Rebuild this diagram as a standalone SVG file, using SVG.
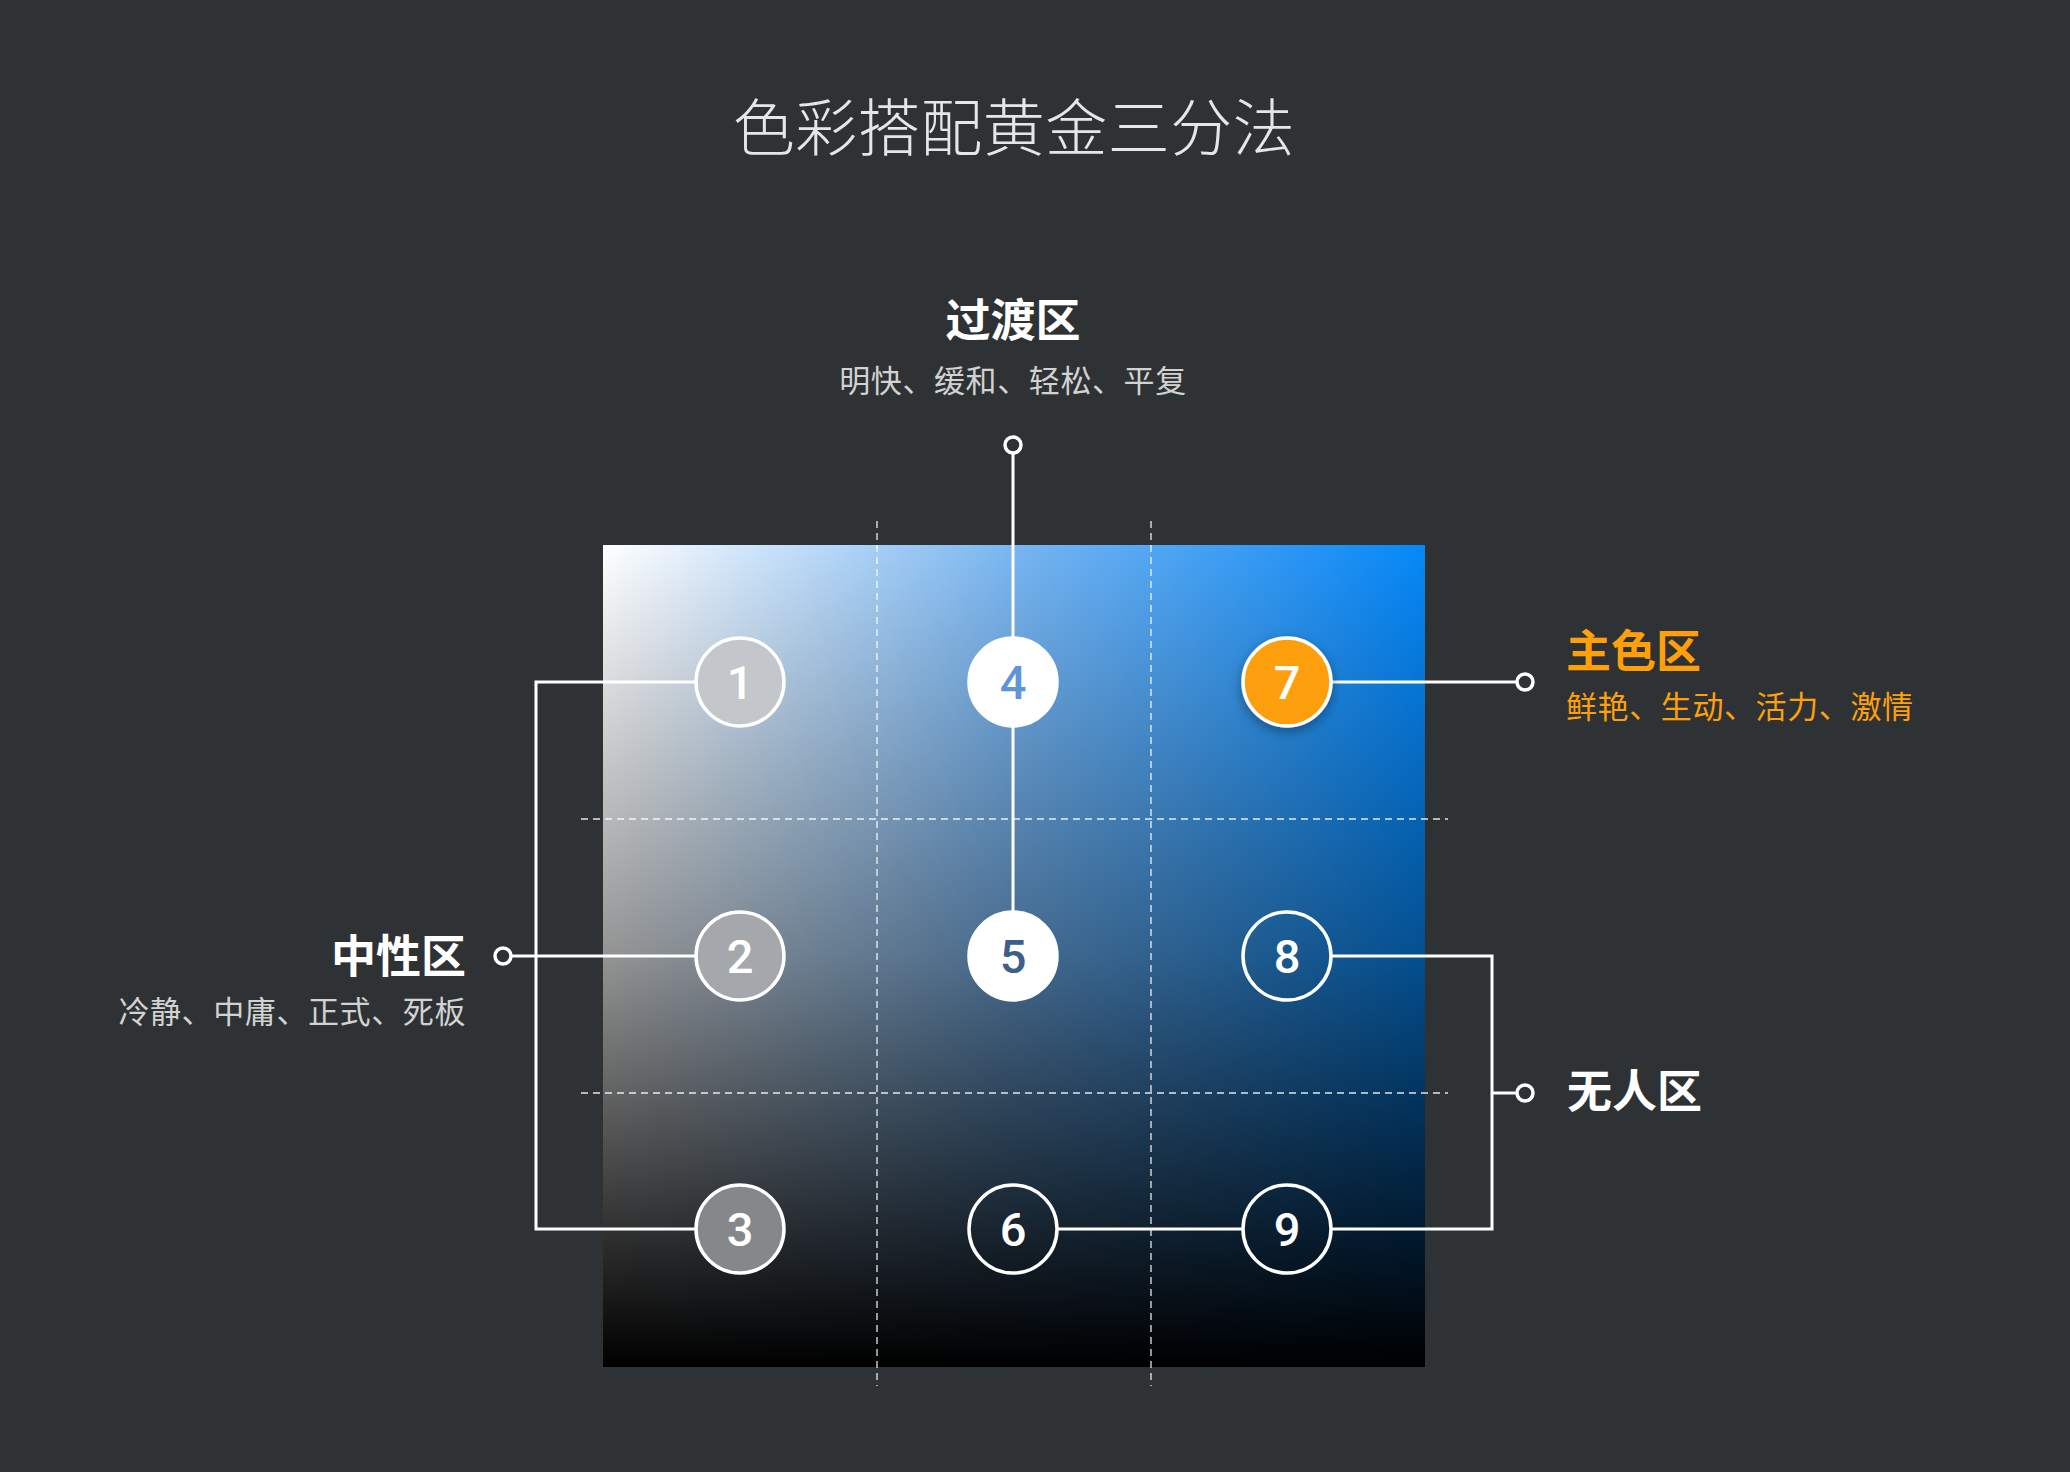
<svg xmlns="http://www.w3.org/2000/svg" width="2070" height="1472" viewBox="0 0 2070 1472">
<defs>
<linearGradient id="gx" x1="0" y1="0" x2="1" y2="0">
<stop offset="0" stop-color="#ffffff"/>
<stop offset="0.5" stop-color="#78b6f2"/>
<stop offset="1" stop-color="#0588f8"/>
</linearGradient>
<linearGradient id="gy" x1="0" y1="0" x2="0" y2="1">
<stop offset="0" stop-color="#000" stop-opacity="0"/>
<stop offset="0.5" stop-color="#000" stop-opacity="0.42"/>
<stop offset="1" stop-color="#000" stop-opacity="1"/>
</linearGradient>
<filter id="sh" x="-50%" y="-50%" width="200%" height="200%">
<feDropShadow dx="0" dy="4" stdDeviation="6" flood-color="#000" flood-opacity="0.35"/>
</filter>
<style>
.title{font-family:"Noto Sans CJK SC","Noto Sans",sans-serif;font-size:62px;font-weight:300;fill:#e6e6e6;text-anchor:middle;letter-spacing:0.5px}
.head{font-family:"Noto Sans CJK SC","Noto Sans",sans-serif;font-size:45px;font-weight:700;fill:#ffffff}
.sub{font-family:"Noto Sans CJK SC","Noto Sans",sans-serif;font-size:31px;font-weight:400;fill:#d2d2d2;letter-spacing:0.6px}
.orange{fill:#ffa00a}
.num{font-family:Roboto,"DejaVu Sans",sans-serif;font-size:47px;font-weight:500;fill:#ffffff;text-anchor:middle}
.ring{stroke:#ffffff;stroke-width:3.5}
.conn{stroke:#ffffff;stroke-width:3;fill:none}
.end{stroke:#ffffff;stroke-width:3.5;fill:#2f3234}
.grid{stroke:#ffffff;stroke-opacity:0.65;stroke-width:1.8;stroke-dasharray:7 5;fill:none}
</style>
</defs>
<rect x="0" y="0" width="2070" height="1472" fill="#2f3234"/>
<text class="title" x="1014" y="151">色彩搭配黄金三分法</text>

<g id="panel">
<rect x="603" y="545" width="822" height="822" fill="url(#gx)"/>
<rect x="603" y="545" width="822" height="822" fill="url(#gy)"/>
<path class="grid" d="M877 521V1386M1151 521V1386M581 819H1448M581 1093H1448"/>
</g>

<g id="connectors">
<path class="conn" d="M695 682H536V1229H695"/>
<path class="conn" d="M695 956H511"/>
<path class="conn" d="M1013 453V637M1013 727V911"/>
<path class="conn" d="M1332 682H1517"/>
<path class="conn" d="M1332 956H1492V1229H1332"/>
<path class="conn" d="M1058 1229H1242"/>
<path class="conn" d="M1492 1093H1517"/>
<circle class="end" cx="503" cy="956" r="8"/>
<circle class="end" cx="1013" cy="445" r="8"/>
<circle class="end" cx="1525" cy="682" r="8"/>
<circle class="end" cx="1525" cy="1093" r="8"/>
</g>

<g id="node1"><circle class="ring" cx="740" cy="682" r="44" fill="#c3c6ca"/><text class="num" x="740" y="699">1</text></g>
<g id="node2"><circle class="ring" cx="740" cy="956" r="44" fill="#a4a7ab"/><text class="num" x="740" y="973">2</text></g>
<g id="node3"><circle class="ring" cx="740" cy="1229" r="44" fill="#85888b"/><text class="num" x="740" y="1246">3</text></g>
<g id="node4"><circle class="ring" cx="1013" cy="682" r="44" fill="#ffffff"/><text class="num" x="1013" y="699" style="fill:#5f95d6">4</text></g>
<g id="node5"><circle class="ring" cx="1013" cy="956" r="44" fill="#ffffff"/><text class="num" x="1013" y="973" style="fill:#3e5f8a">5</text></g>
<g id="node6"><circle class="ring" cx="1013" cy="1229" r="44" fill="none"/><text class="num" x="1013" y="1246">6</text></g>
<g id="node7"><circle class="ring" cx="1287" cy="682" r="44" fill="#fd9e0c" filter="url(#sh)"/><text class="num" x="1287" y="699">7</text></g>
<g id="node8"><circle class="ring" cx="1287" cy="956" r="44" fill="none"/><text class="num" x="1287" y="973">8</text></g>
<g id="node9"><circle class="ring" cx="1287" cy="1229" r="44" fill="none"/><text class="num" x="1287" y="1246">9</text></g>

<g id="label-top">
<text class="head" x="1013" y="337" text-anchor="middle">过渡区</text>
<text class="sub" x="1013" y="392" text-anchor="middle">明快、缓和、轻松、平复</text>
</g>
<g id="label-main">
<text class="head orange" x="1566" y="668">主色区</text>
<text class="sub orange" x="1566" y="718">鲜艳、生动、活力、激情</text>
</g>
<g id="label-neutral">
<text class="head" x="466" y="973" text-anchor="end">中性区</text>
<text class="sub" x="466" y="1023" text-anchor="end">冷静、中庸、正式、死板</text>
</g>
<g id="label-none">
<text class="head" x="1567" y="1108">无人区</text>
</g>
</svg>
